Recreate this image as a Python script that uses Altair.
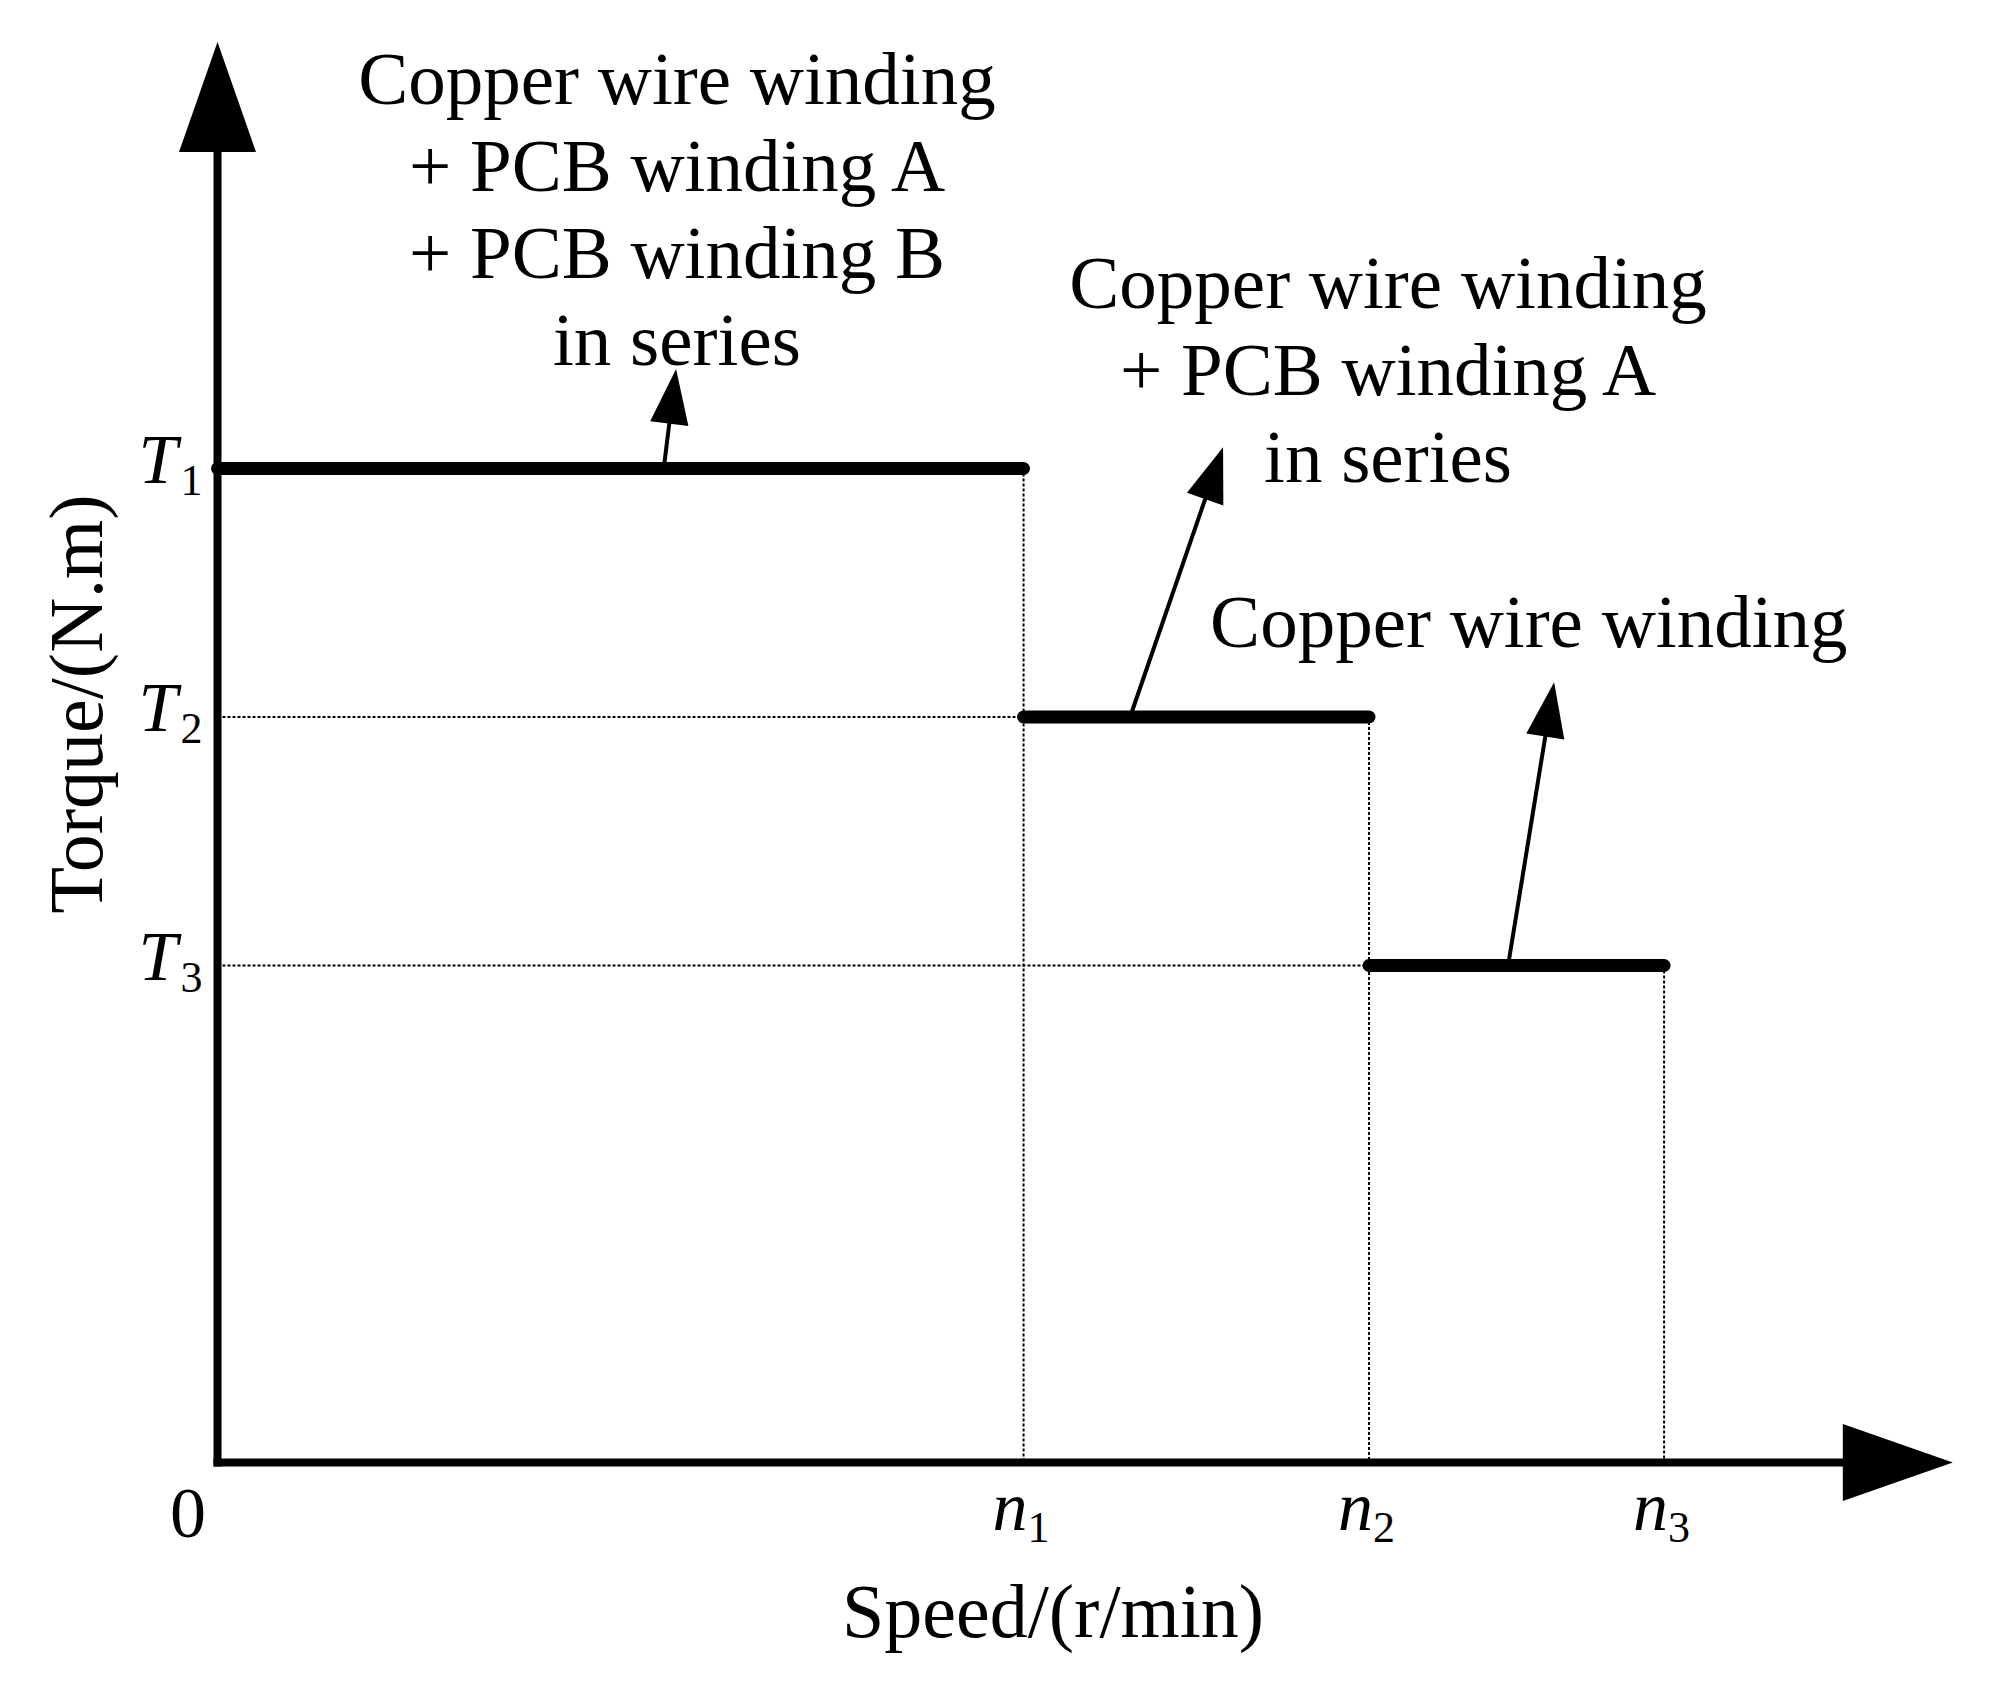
import math
import altair as alt
import pandas as pd

# ---------------- data (schematic values) ----------------
speed_names = ["n1", "n2", "n3"]
speed_subs = ["1", "2", "3"]
speed_vals = [2800, 4000, 5025]          # r/min (schematic)
torque_names = ["T1", "T2", "T3"]
torque_subs = ["1", "2", "3"]
torque_vals = [20, 15, 10]               # N.m (schematic)

ann1_lines = ["Copper wire winding", "+ PCB winding A", "+ PCB winding B", "in series"]
ann2_lines = ["Copper wire winding", "+ PCB winding A", "in series"]
ann3_lines = ["Copper wire winding"]
ann_speed = [1596, 4066, 4555]           # centre of each annotation
ann_torque = [27.33, 23.23, 16.41]       # baseline of first line
ann_step = 1.75                          # line spacing (torque units)

arrow_start_speed = [1550, 3170, 4483]   # arrow foot on each step
arrow_tip_speed = [1593, 3493, 4643]
arrow_tip_torque = [22.0, 20.43, 15.70]

y_axis_tip_torque = 28.58
x_axis_tip_speed = 6028

# ---------------- layout constants ----------------
W, H = 1980, 1660
KX = 0.28788        # px per r/min
KY = 49.7           # px per N.m
OX, OY = 209.5, 1454.5   # origin in plot px

xs = alt.Scale(domain=[-OX / KX, (W - OX) / KX], nice=False, zero=False)
ys = alt.Scale(domain=[-(H - OY) / KY, OY / KY], nice=False, zero=False)

FONT = "Liberation Serif"
HEAD = "M0,0 L0.7,2 L-0.7,2 Z"   # tip at origin, pointing up


def X(f):
    return alt.X(f, type="quantitative", scale=xs, axis=None)


def Y(f):
    return alt.Y(f, type="quantitative", scale=ys, axis=None)


# ---------------- axes ----------------
axes_df = pd.DataFrame({
    "x0": [0, 0], "x1": [0, x_axis_tip_speed - 55 / KX],
    "y0": [0, 0], "y1": [y_axis_tip_torque - 55 / KY, 0],
})
axes = alt.Chart(axes_df).mark_rule(strokeWidth=8, strokeCap="square", color="black").encode(
    x=X("x0"), x2="x1", y=Y("y0"), y2="y1")

axis_heads_df = pd.DataFrame({
    "x": [0, x_axis_tip_speed], "y": [y_axis_tip_torque, 0], "ang": [0, 90], "sz": [12100, 12100]})

# ---------------- steps ----------------
steps_df = pd.DataFrame({
    "x0": [0] + speed_vals[:2], "x1": speed_vals, "y": torque_vals})
steps = alt.Chart(steps_df).mark_rule(strokeWidth=13, strokeCap="round", color="black").encode(
    x=X("x0"), x2="x1", y=Y("y"))

# dotted guides
vdot_df = pd.DataFrame({"x": speed_vals, "y0": torque_vals, "y1": [0, 0, 0]})
vdots = alt.Chart(vdot_df).mark_rule(strokeWidth=2, strokeDash=[3, 2], color="black").encode(
    x=X("x"), y=Y("y0"), y2="y1")
hdot_df = pd.DataFrame({"x0": [0, 0], "x1": speed_vals[:2], "y": torque_vals[1:]})
hdots = alt.Chart(hdot_df).mark_rule(strokeWidth=2, strokeDash=[3, 2], color="black").encode(
    x=X("x0"), x2="x1", y=Y("y"))

# ---------------- annotation arrows ----------------
sh_rows, hd_rows = [], []
for s0, t0, s1, t1 in zip(arrow_start_speed, torque_vals, arrow_tip_speed, arrow_tip_torque):
    dxp = (s1 - s0) * KX
    dyp = -(t1 - t0) * KY
    L = math.hypot(dxp, dyp)
    f = 1 - 50 / L
    sh_rows.append({"x0": s0, "y0": t0, "x1": s0 + (s1 - s0) * f, "y1": t0 + (t1 - t0) * f})
    ang = math.degrees(math.atan2(dxp, -dyp)) % 360
    hd_rows.append({"x": s1, "y": t1, "ang": ang, "sz": 3025})

shafts = alt.Chart(pd.DataFrame(sh_rows)).mark_rule(strokeWidth=4, color="black").encode(
    x=X("x0"), x2="x1", y=Y("y0"), y2="y1")

heads_df = pd.concat([axis_heads_df, pd.DataFrame(hd_rows)], ignore_index=True)
heads = alt.Chart(heads_df).mark_point(
    shape=HEAD, filled=True, fill="black", strokeWidth=0, opacity=1).encode(
    x=X("x"), y=Y("y"),
    angle=alt.Angle("ang:Q", scale=None),
    size=alt.Size("sz:Q", scale=None))

# ---------------- annotation texts ----------------
txt_rows = []
for lines, sx, ty in zip([ann1_lines, ann2_lines, ann3_lines], ann_speed, ann_torque):
    for i, ln in enumerate(lines):
        txt_rows.append({"t": ln, "x": sx, "y": ty - i * ann_step})
ann_text = alt.Chart(pd.DataFrame(txt_rows)).mark_text(
    font=FONT, fontSize=75, align="center", baseline="alphabetic", color="black").encode(
    x=X("x"), y=Y("y"), text="t:N")

# ---------------- tick labels ----------------
tl_df = pd.DataFrame({"x": [0, 0, 0], "y": torque_vals, "m": ["T"] * 3, "s": torque_subs})
t_main = alt.Chart(tl_df).mark_text(
    font=FONT, fontSize=70, fontStyle="italic", align="left", baseline="alphabetic",
    dx=-79, dy=14, color="black").encode(x=X("x"), y=Y("y"), text="m:N")
t_sub = alt.Chart(tl_df).mark_text(
    font=FONT, fontSize=44, align="left", baseline="alphabetic",
    dx=-37, dy=26, color="black").encode(x=X("x"), y=Y("y"), text="s:N")

nl_df = pd.DataFrame({"x": speed_vals, "y": [0, 0, 0], "m": ["n"] * 3, "s": speed_subs})
n_main = alt.Chart(nl_df).mark_text(
    font=FONT, fontSize=70, fontStyle="italic", align="left", baseline="alphabetic",
    dx=-31, dy=67.5, color="black").encode(x=X("x"), y=Y("y"), text="m:N")
n_sub = alt.Chart(nl_df).mark_text(
    font=FONT, fontSize=44, align="left", baseline="alphabetic",
    dx=4, dy=79.5, color="black").encode(x=X("x"), y=Y("y"), text="s:N")

zero = alt.Chart(pd.DataFrame({"x": [0], "y": [0], "t": ["0"]})).mark_text(
    font=FONT, fontSize=72, align="center", baseline="alphabetic",
    dx=-29.5, dy=74.5, color="black").encode(x=X("x"), y=Y("y"), text="t:N")

# ---------------- axis titles ----------------
xt = alt.Chart(pd.DataFrame({"t": ["Speed/(r/min)"]})).mark_text(
    font=FONT, fontSize=76, align="center", baseline="alphabetic", color="black").encode(
    x=alt.value(1045), y=alt.value(1629), text="t:N")
yt = alt.Chart(pd.DataFrame({"t": ["Torque/(N.m)"]})).mark_text(
    font=FONT, fontSize=76, align="center", baseline="alphabetic", angle=270, color="black").encode(
    x=alt.value(94), y=alt.value(696), text="t:N")

chart = alt.layer(
    hdots, vdots, axes, steps, shafts, heads, ann_text,
    t_main, t_sub, n_main, n_sub, zero, xt, yt
).properties(
    width=W, height=H, padding=0,
    autosize=alt.AutoSizeParams(type="none"),
    background="white",
).configure_view(stroke=None)

chart.save("out.html", embed_options={"renderer": "svg", "actions": False})
